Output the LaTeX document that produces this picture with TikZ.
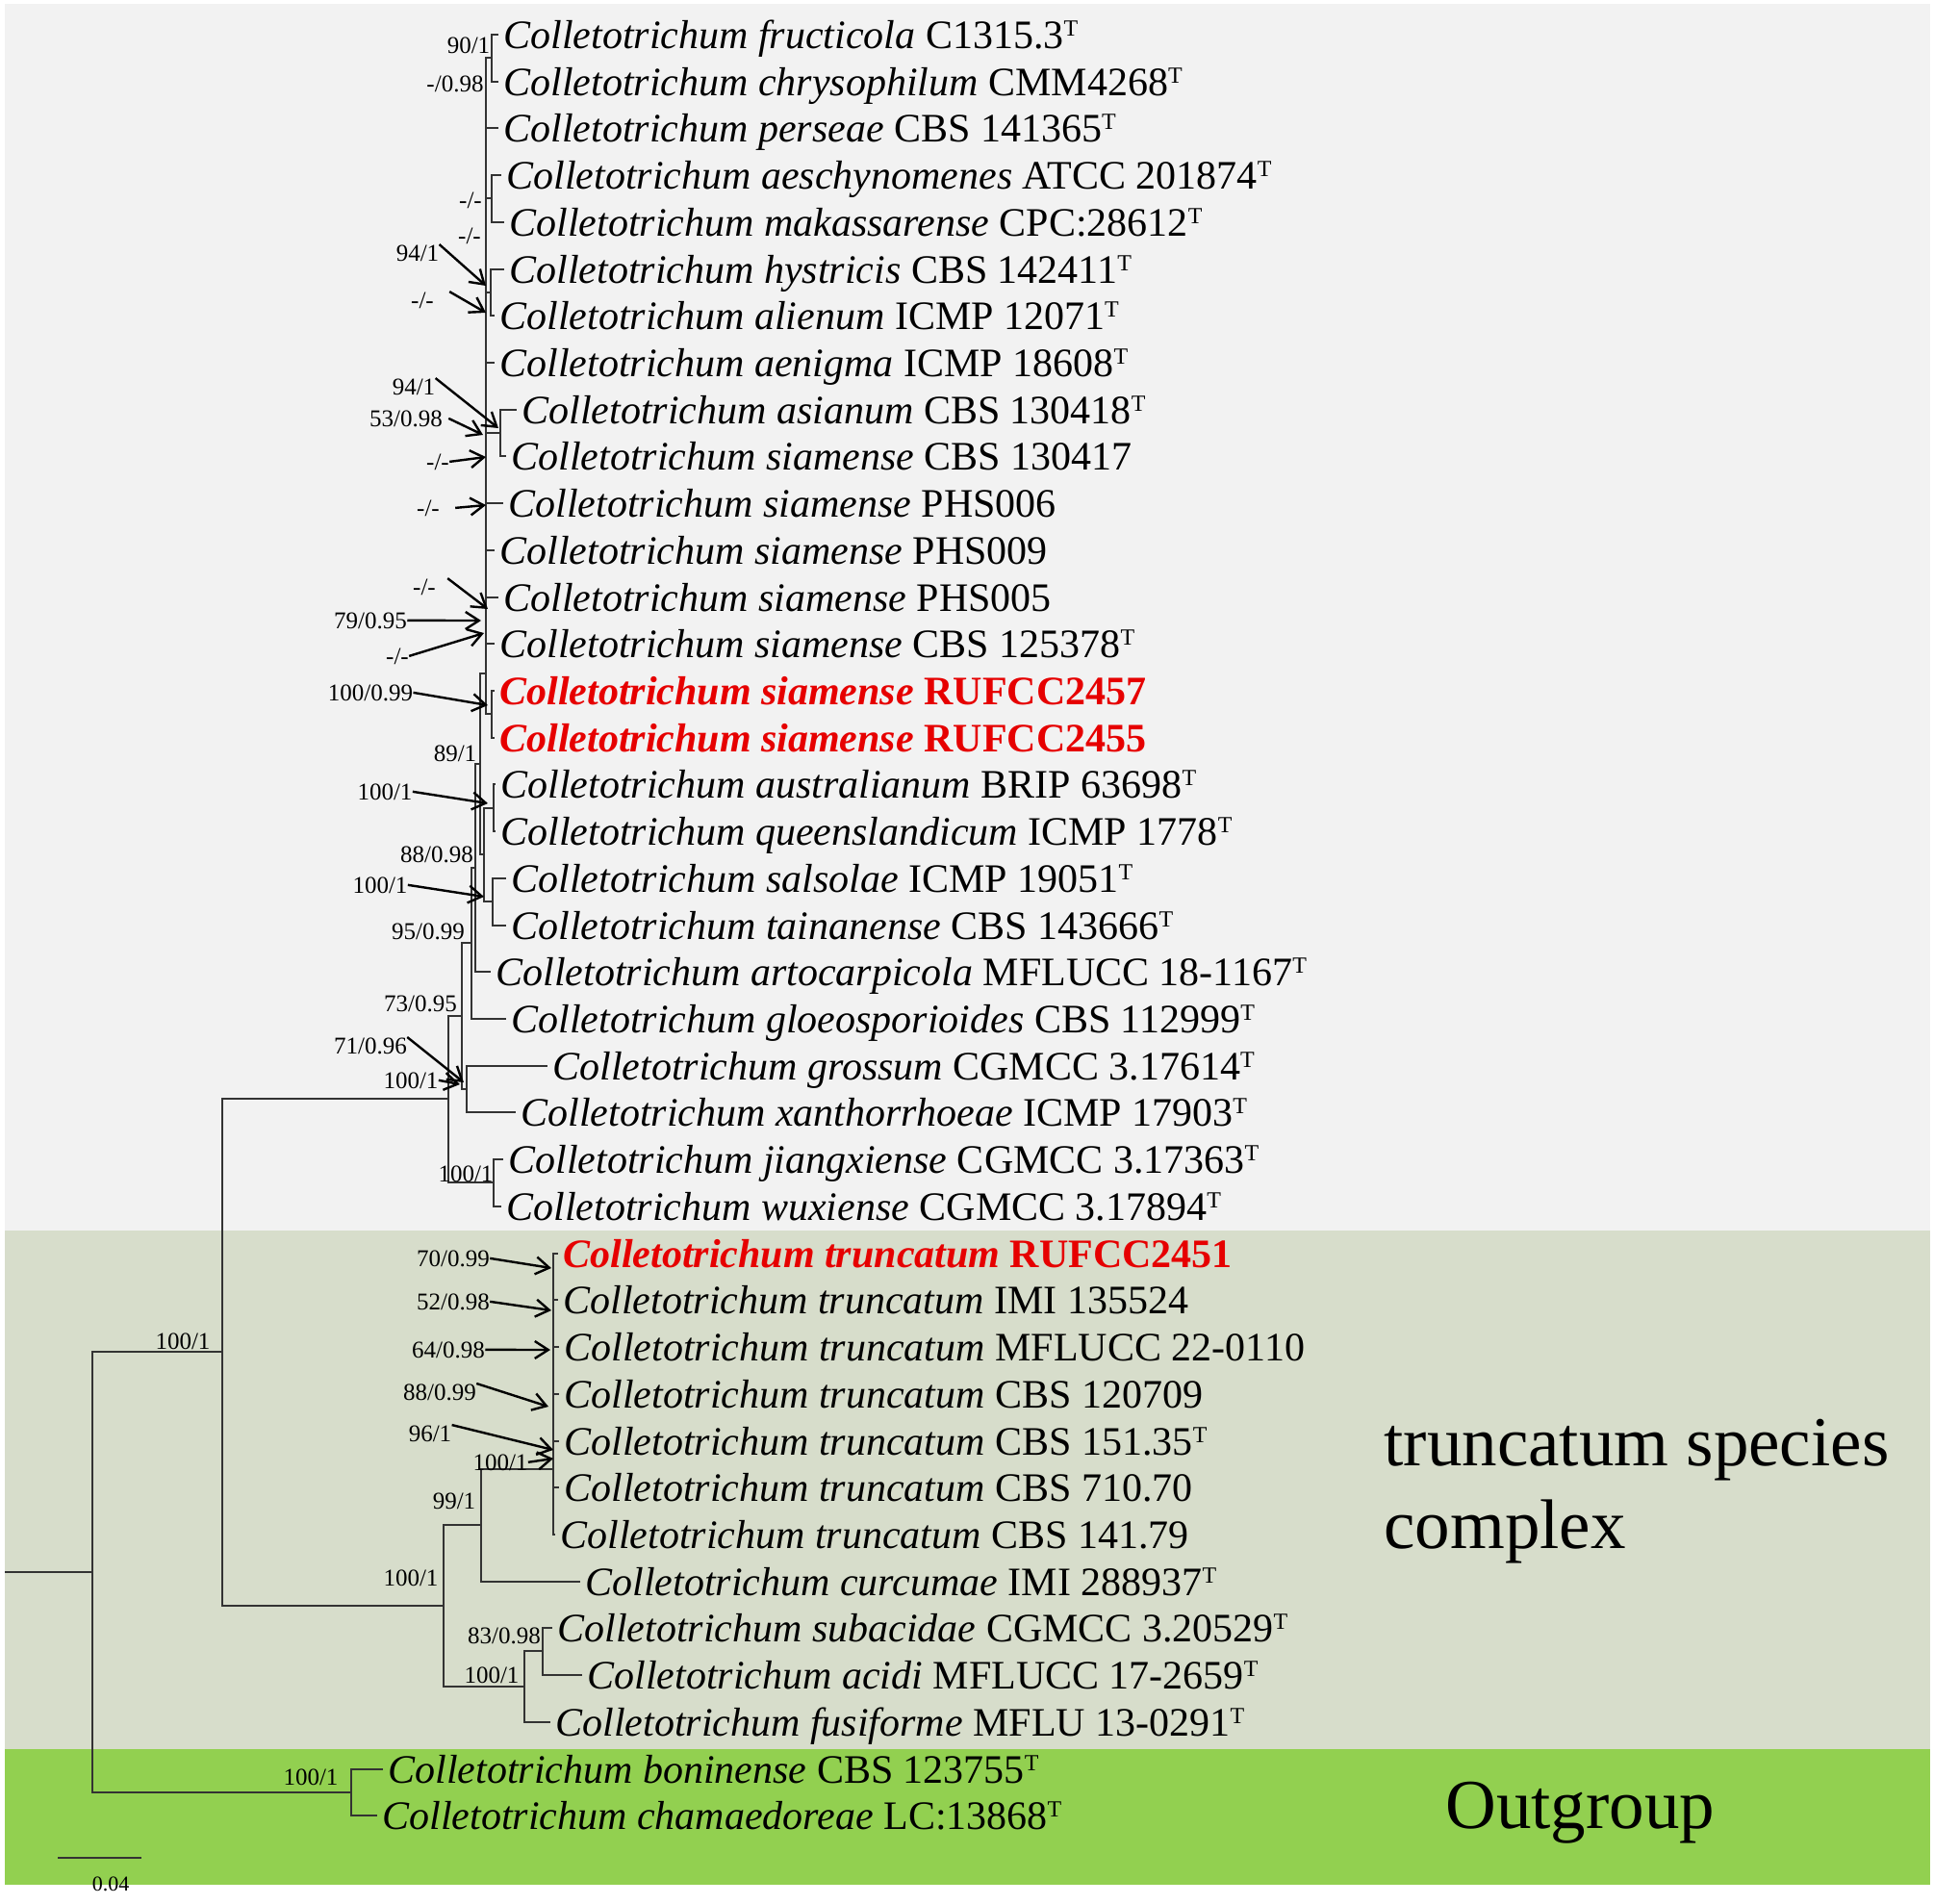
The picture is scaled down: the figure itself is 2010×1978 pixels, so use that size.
\documentclass[tikz,border=0pt]{standalone}
\usepackage{fontspec}
\setmainfont{Liberation Serif}
\usetikzlibrary{arrows.meta}
\definecolor{bggrey}{HTML}{F2F2F2}
\definecolor{bgsage}{HTML}{D7DDCB}
\definecolor{bggreen}{HTML}{92D050}
\definecolor{redtx}{HTML}{E60000}
\newcommand\supT{\raisebox{0.3em}{\fontsize{12}{12}\selectfont T}}
\begin{document}
\begin{tikzpicture}[x=0.5pt,y=-0.5pt,
  tree/.style={draw=black!80, line width=1pt},
  sarrow/.style={draw=black, line width=1.2pt, -{Straight Barb[length=7pt,width=9pt,line width=1.2pt]}},
  taxon/.style={anchor=base west, inner sep=0pt, font=\fontsize{21}{25}\selectfont},
  redtaxon/.style={anchor=base west, inner sep=0pt, text=redtx, font=\fontsize{21}{25}\selectfont\bfseries},
  supp/.style={anchor=base, inner sep=0pt, font=\fontsize{12.5}{14}\selectfont},
  grouplab/.style={anchor=base west, inner sep=0pt, font=\fontsize{36.5}{43}\selectfont}
]
\useasboundingbox (0,0) rectangle (2010,1978);
\fill[white] (0,0) rectangle (2010,1978);
\fill[bggrey] (5,4) rectangle (2006,1279);
\fill[bgsage] (5,1279) rectangle (2006,1818);
\fill[bggreen] (5,1818) rectangle (2006,1959);

% ---- tip coordinates (end of terminal branches)
\coordinate (e1) at (518,36);
\coordinate (e2) at (518,85);
\coordinate (e3) at (518,133);
\coordinate (e4) at (521,182);
\coordinate (e5) at (524,231);
\coordinate (e6) at (524,280);
\coordinate (e7) at (514,328);
\coordinate (e8) at (514,377);
\coordinate (e9) at (537,426);
\coordinate (e10) at (526,474);
\coordinate (e11) at (523,523);
\coordinate (e12) at (514,572);
\coordinate (e13) at (518,621);
\coordinate (e14) at (514,669);
\coordinate (e15) at (514,718);
\coordinate (e16) at (514,767);
\coordinate (e17) at (515,815);
\coordinate (e18) at (515,864);
\coordinate (e19) at (526,913);
\coordinate (e20) at (526,962);
\coordinate (e21) at (510,1010);
\coordinate (e22) at (526,1059);
\coordinate (e23) at (569,1108);
\coordinate (e24) at (536,1156);
\coordinate (e25) at (523,1205);
\coordinate (e26) at (521,1254);
\coordinate (e27) at (580,1303);
\coordinate (e28) at (580,1351);
\coordinate (e29) at (581,1400);
\coordinate (e30) at (581,1449);
\coordinate (e31) at (581,1498);
\coordinate (e32) at (581,1546);
\coordinate (e33) at (577,1595);
\coordinate (e34) at (603,1644);
\coordinate (e35) at (574,1692);
\coordinate (e36) at (605,1741);
\coordinate (e37) at (572,1790);
\coordinate (e38) at (398,1839);
\coordinate (e39) at (392,1887);

% ---- internal nodes
\coordinate (nA) at (511,60);
\coordinate (nT) at (505,700);
\coordinate (n45) at (511,206);
\coordinate (n67) at (510,304);
\coordinate (n910) at (520,450);
\coordinate (n1516) at (511,742);
\coordinate (nAQ) at (513,840);
\coordinate (nST) at (512,937);
\coordinate (nB) at (503,888);
\coordinate (nC) at (499,794);
\coordinate (nD) at (494,902);
\coordinate (nE) at (490,980);
\coordinate (nGX) at (485,1132);
\coordinate (nF) at (480,1056);
\coordinate (nJW) at (513,1229);
\coordinate (nG) at (466,1142);
\coordinate (nTR) at (575,1527);
\coordinate (n99) at (500,1585);
\coordinate (nAC) at (564,1716);
\coordinate (nSF) at (545,1753);
\coordinate (nTC) at (461,1669);
\coordinate (nT0) at (231,1405);
\coordinate (nOG) at (365,1863);
\coordinate (nR) at (96,1634);
\coordinate (rootend) at (5,1634);

% ---- branches
\draw[tree] (nA) |- (e1);  \draw[tree] (nA) |- (e2);
\draw[tree] (nT) |- (nA);  \draw[tree] (nT) |- (e3);
\draw[tree] (nT) |- (n45); \draw[tree] (n45) |- (e4); \draw[tree] (n45) |- (e5);
\draw[tree] (nT) |- (n67); \draw[tree] (n67) |- (e6); \draw[tree] (n67) |- (e7);
\draw[tree] (nT) |- (e8);
\draw[tree] (nT) |- (n910); \draw[tree] (n910) |- (e9); \draw[tree] (n910) |- (e10);
\draw[tree] (nT) |- (e11); \draw[tree] (nT) |- (e12);
\draw[tree] (nT) |- (e13); \draw[tree] (nT) |- (e14);
\draw[tree] (nT) |- (n1516); \draw[tree] (n1516) |- (e15); \draw[tree] (n1516) |- (e16);
\draw[tree] (nC) |- (nT); \draw[tree] (nC) |- (nB);
\draw[tree] (nB) |- (nAQ); \draw[tree] (nAQ) |- (e17); \draw[tree] (nAQ) |- (e18);
\draw[tree] (nB) |- (nST); \draw[tree] (nST) |- (e19); \draw[tree] (nST) |- (e20);
\draw[tree] (nD) |- (nC); \draw[tree] (nD) |- (e21);
\draw[tree] (nE) |- (nD); \draw[tree] (nE) |- (e22);
\draw[tree] (nF) |- (nE); \draw[tree] (nF) |- (nGX);
\draw[tree] (nGX) |- (e23); \draw[tree] (nGX) |- (e24);
\draw[tree] (nG) |- (nF); \draw[tree] (nG) |- (nJW);
\draw[tree] (nJW) |- (e25); \draw[tree] (nJW) |- (e26);
\draw[tree] (nT0) |- (nG); \draw[tree] (nT0) |- (nTC);
\draw[tree] (nTC) |- (n99); \draw[tree] (nTC) |- (nSF);
\draw[tree] (n99) |- (nTR); \draw[tree] (n99) |- (e34);
\foreach \k in {27,...,33} {\draw[tree] (nTR) |- (e\k);}
\draw[tree] (nSF) |- (nAC); \draw[tree] (nSF) |- (e37);
\draw[tree] (nAC) |- (e35); \draw[tree] (nAC) |- (e36);
\draw[tree] (nR) |- (nT0); \draw[tree] (nR) |- (nOG);
\draw[tree] (nOG) |- (e38); \draw[tree] (nOG) |- (e39);
\draw[tree] (rootend) -- (nR);

% ---- taxa
\node[taxon] (t1) at (523,50) {\textit{Colletotrichum fructicola} C1315.3\supT};
\node[taxon] (t2) at (523,99) {\textit{Colletotrichum chrysophilum} CMM4268\supT};
\node[taxon] (t3) at (523,147) {\textit{Colletotrichum perseae} CBS 141365\supT};
\node[taxon] (t4) at (526,196) {\textit{Colletotrichum aeschynomenes} ATCC 201874\supT};
\node[taxon] (t5) at (529,245) {\textit{Colletotrichum makassarense} CPC:28612\supT};
\node[taxon] (t6) at (529,294) {\textit{Colletotrichum hystricis} CBS 142411\supT};
\node[taxon] (t7) at (519,342) {\textit{Colletotrichum alienum} ICMP 12071\supT};
\node[taxon] (t8) at (519,391) {\textit{Colletotrichum aenigma} ICMP 18608\supT};
\node[taxon] (t9) at (542,440) {\textit{Colletotrichum asianum} CBS 130418\supT};
\node[taxon] (t10) at (531,488) {\textit{Colletotrichum siamense} CBS 130417};
\node[taxon] (t11) at (528,537) {\textit{Colletotrichum siamense} PHS006};
\node[taxon] (t12) at (519,586) {\textit{Colletotrichum siamense} PHS009};
\node[taxon] (t13) at (523,635) {\textit{Colletotrichum siamense} PHS005};
\node[taxon] (t14) at (519,683) {\textit{Colletotrichum siamense} CBS 125378\supT};
\node[redtaxon] (t15) at (519,732) {\textit{Colletotrichum siamense} RUFCC2457};
\node[redtaxon] (t16) at (519,781) {\textit{Colletotrichum siamense} RUFCC2455};
\node[taxon] (t17) at (520,829) {\textit{Colletotrichum australianum} BRIP 63698\supT};
\node[taxon] (t18) at (520,878) {\textit{Colletotrichum queenslandicum} ICMP 1778\supT};
\node[taxon] (t19) at (531,927) {\textit{Colletotrichum salsolae} ICMP 19051\supT};
\node[taxon] (t20) at (531,976) {\textit{Colletotrichum tainanense} CBS 143666\supT};
\node[taxon] (t21) at (515,1024) {\textit{Colletotrichum artocarpicola} MFLUCC 18-1167\supT};
\node[taxon] (t22) at (531,1073) {\textit{Colletotrichum gloeosporioides} CBS 112999\supT};
\node[taxon] (t23) at (574,1122) {\textit{Colletotrichum grossum} CGMCC 3.17614\supT};
\node[taxon] (t24) at (541,1170) {\textit{Colletotrichum xanthorrhoeae} ICMP 17903\supT};
\node[taxon] (t25) at (528,1219) {\textit{Colletotrichum jiangxiense} CGMCC 3.17363\supT};
\node[taxon] (t26) at (526,1268) {\textit{Colletotrichum wuxiense} CGMCC 3.17894\supT};
\node[redtaxon] (t27) at (585,1317) {\textit{Colletotrichum truncatum} RUFCC2451};
\node[taxon] (t28) at (585,1365) {\textit{Colletotrichum truncatum} IMI 135524};
\node[taxon] (t29) at (586,1414) {\textit{Colletotrichum truncatum} MFLUCC 22-0110};
\node[taxon] (t30) at (586,1463) {\textit{Colletotrichum truncatum} CBS 120709};
\node[taxon] (t31) at (586,1512) {\textit{Colletotrichum truncatum} CBS 151.35\supT};
\node[taxon] (t32) at (586,1560) {\textit{Colletotrichum truncatum} CBS 710.70};
\node[taxon] (t33) at (582,1609) {\textit{Colletotrichum truncatum} CBS 141.79};
\node[taxon] (t34) at (608,1658) {\textit{Colletotrichum curcumae} IMI 288937\supT};
\node[taxon] (t35) at (579,1706) {\textit{Colletotrichum subacidae} CGMCC 3.20529\supT};
\node[taxon] (t36) at (610,1755) {\textit{Colletotrichum acidi} MFLUCC 17-2659\supT};
\node[taxon] (t37) at (577,1804) {\textit{Colletotrichum fusiforme} MFLU 13-0291\supT};
\node[taxon] (t38) at (403,1853) {\textit{Colletotrichum boninense} CBS 123755\supT};
\node[taxon] (t39) at (397,1901) {\textit{Colletotrichum chamaedoreae} LC:13868\supT};

% ---- group labels
\node[grouplab] (g1) at (1438,1523) {truncatum species};
\node[grouplab] (g2) at (1438,1609) {complex};
\node[grouplab] (g3) at (1502,1900) {Outgroup};

% ---- support values
\node[supp] (s1) at (487,55) {90/1};
\node[supp] (s2) at (473,95) {-/0.98};
\node[supp] (s3) at (489,216) {-/-};
\node[supp] (s4) at (488,253) {-/-};
\node[supp] (s5) at (434,271) {94/1};
\node[supp] (s6) at (439,320) {-/-};
\node[supp] (s7) at (430,410) {94/1};
\node[supp] (s8) at (422,443) {53/0.98};
\node[supp] (s9) at (455,488) {-/-};
\node[supp] (s10) at (445,536) {-/-};
\node[supp] (s11) at (441,618) {-/-};
\node[supp] (s12) at (385,653) {79/0.95};
\node[supp] (s13) at (413,690) {-/-};
\node[supp] (s14) at (385,728) {100/0.99};
\node[supp] (s15) at (473,791) {89/1};
\node[supp] (s16) at (400,831) {100/1};
\node[supp] (s17) at (454,896) {88/0.98};
\node[supp] (s18) at (395,928) {100/1};
\node[supp] (s19) at (445,976) {95/0.99};
\node[supp] (s20) at (437,1051) {73/0.95};
\node[supp] (s21) at (385,1095) {71/0.96};
\node[supp] (s22) at (427,1131) {100/1};
\node[supp] (s23) at (484,1228) {100/1};
\node[supp] (s24) at (190,1402) {100/1};
\node[supp] (s25) at (471,1316) {70/0.99};
\node[supp] (s26) at (471,1361) {52/0.98};
\node[supp] (s27) at (466,1411) {64/0.98};
\node[supp] (s28) at (457,1455) {88/0.99};
\node[supp] (s29) at (447,1498) {96/1};
\node[supp] (s30) at (520,1528) {100/1};
\node[supp] (s31) at (472,1568) {99/1};
\node[supp] (s32) at (427,1648) {100/1};
\node[supp] (s33) at (524,1708) {83/0.98};
\node[supp] (s34) at (511,1749) {100/1};
\node[supp] (s35) at (323,1855) {100/1};

% ---- arrow targets
\coordinate (a5) at (505,297);
\coordinate (a6) at (505,325);
\coordinate (a7) at (518,445);
\coordinate (a8) at (502,452);
\coordinate (a9) at (505,475);
\coordinate (a10) at (505,525);
\coordinate (a11) at (507,633);
\coordinate (a12) at (500,645);
\coordinate (a13) at (503,658);
\coordinate (a14) at (507,733);
\coordinate (a16) at (507,835);
\coordinate (a18) at (503,932);
\coordinate (a21) at (482,1125);
\coordinate (a22) at (478,1127);
\coordinate (a25) at (573,1318);
\coordinate (a26) at (573,1362);
\coordinate (a27) at (572,1403);
\coordinate (a28) at (570,1462);
\coordinate (a29) at (575,1507);
\coordinate (a30) at (575,1516);

\draw[sarrow] (s5.north east) -- (a5);
\draw[sarrow] ([xshift=8pt]s6.north east) -- (a6);
\draw[sarrow] (s7.north east) -- (a7);
\draw[sarrow] ([xshift=3pt]s8.east) -- (a8);
\draw[sarrow] (s9.east) -- (a9);
\draw[sarrow] ([xshift=8pt]s10.east) -- (a10);
\draw[sarrow] ([xshift=6pt]s11.north east) -- (a11);
\draw[sarrow] (s12.east) -- (a12);
\draw[sarrow] (s13.east) -- (a13);
\draw[sarrow] (s14.east) -- (a14);
\draw[sarrow] (s16.east) -- (a16);
\draw[sarrow] (s18.east) -- (a18);
\draw[sarrow] (s21.north east) -- (a21);
\draw[sarrow] (s22.east) -- (a22);
\draw[sarrow] (s25.east) -- (a25);
\draw[sarrow] (s26.east) -- (a26);
\draw[sarrow] (s27.east) -- (a27);
\draw[sarrow] (s28.north east) -- (a28);
\draw[sarrow] (s29.north east) -- (a29);
\draw[sarrow] (s30.east) -- (a30);

% ---- scale bar
\coordinate (sb1) at (60,1931);
\coordinate (sb2) at (147,1931);
\draw[tree] (sb1) -- (sb2);
\node[supp, font=\fontsize{11}{13}\selectfont] (sbl) at (115,1965) {0.04};
\end{tikzpicture}
\end{document}
